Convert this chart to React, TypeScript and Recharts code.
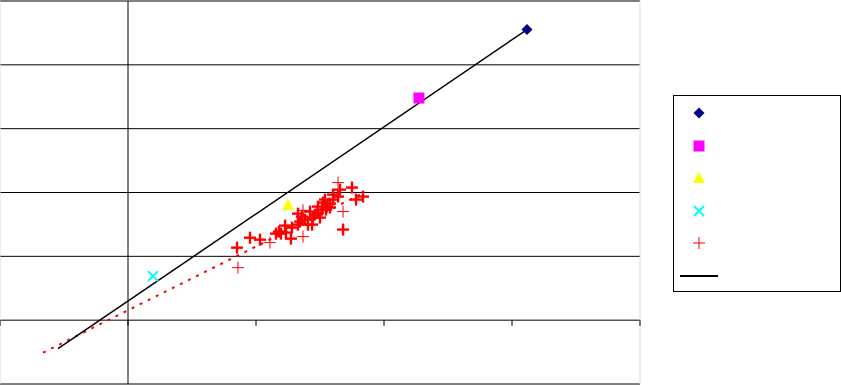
import React from "react";
import {
  ReferenceLine,
  Scatter,
  ScatterChart,
  XAxis,
  YAxis,
  ZAxis,
} from "recharts";

// axis ticks (no labels in the original)
const X_TICKS = [-1, 0, 1, 2, 3, 4];
const Y_GRID = [-1, 0, 1, 2, 3, 4, 5];

// single-point series
const seriesDiamond = [{ x: 3.117, y: 4.553 }];
const seriesSquare = [{ x: 2.273, y: 3.48 }];
const seriesTriangle = [{ x: 1.25, y: 1.81 }];
const seriesCross = [{ x: 0.195, y: 0.69 }];

// red "+" cluster, bold markers
const plusBold = [
  { x: 0.852, y: 1.136 }, { x: 0.953, y: 1.292 }, { x: 1.031, y: 1.261 },
  { x: 1.156, y: 1.356 }, { x: 1.18, y: 1.387 }, { x: 1.227, y: 1.481 },
  { x: 1.273, y: 1.277 }, { x: 1.281, y: 1.45 }, { x: 1.328, y: 1.669 },
  { x: 1.344, y: 1.544 }, { x: 1.383, y: 1.575 }, { x: 1.438, y: 1.497 },
  { x: 1.461, y: 1.654 }, { x: 1.5, y: 1.607 }, { x: 1.516, y: 1.732 },
  { x: 1.539, y: 1.889 }, { x: 1.555, y: 1.779 }, { x: 1.578, y: 1.826 },
  { x: 1.602, y: 1.889 }, { x: 1.641, y: 1.936 }, { x: 1.68, y: 1.419 },
  { x: 1.75, y: 2.077 }, { x: 1.781, y: 1.889 }, { x: 1.836, y: 1.936 },
  { x: 1.523, y: 1.842 }, { x: 1.422, y: 1.701 }, { x: 1.328, y: 1.497 },
  { x: 1.234, y: 1.372 }, { x: 1.484, y: 1.779 }, { x: 1.484, y: 1.685 },
  { x: 1.547, y: 1.732 }, { x: 1.578, y: 1.764 }, { x: 1.602, y: 1.967 },
  { x: 1.656, y: 2.045 }, { x: 1.445, y: 1.607 }, { x: 1.406, y: 1.497 },
  { x: 1.195, y: 1.356 }, { x: 1.359, y: 1.622 },
];

// red "+" cluster, thin markers
const plusThin = [
  { x: 0.859, y: 0.823 }, { x: 1.109, y: 1.215 }, { x: 1.367, y: 1.309 },
  { x: 1.641, y: 2.155 }, { x: 1.68, y: 1.701 }, { x: 1.367, y: 1.72 },
];

// dotted trend line of the "+" series
const trendLine = [
  { x: -0.664, y: -0.509 },
  { x: 1.836, y: 1.99 },
];

// solid black reference line
const blackLine = [
  { x: -0.547, y: -0.447 },
  { x: 3.117, y: 4.553 },
];

const Diamond = ({ cx, cy }: any) => (
  <polygon
    points={`${cx},${cy - 5.5} ${cx + 5.5},${cy} ${cx},${cy + 5.5} ${cx - 5.5},${cy}`}
    fill="#000080"
  />
);
const Square = ({ cx, cy }: any) => (
  <rect x={cx - 5.5} y={cy - 5.5} width={11} height={11} fill="#FF00FF" />
);
const Triangle = ({ cx, cy }: any) => (
  <polygon
    points={`${cx},${cy - 6} ${cx + 6},${cy + 5} ${cx - 6},${cy + 5}`}
    fill="#FFFF00"
  />
);
const Cross = ({ cx, cy }: any) => (
  <g stroke="#00FFFF" strokeWidth={2}>
    <line x1={cx - 5} y1={cy - 5} x2={cx + 5} y2={cy + 5} />
    <line x1={cx - 5} y1={cy + 5} x2={cx + 5} y2={cy - 5} />
  </g>
);
const Plus = ({ cx, cy, w = 1 }: any) => (
  <g stroke="#FF0000" strokeWidth={w}>
    <line x1={cx - 6} y1={cy} x2={cx + 6} y2={cy} />
    <line x1={cx} y1={cy - 6} x2={cx} y2={cy + 6} />
  </g>
);

function LegendBox() {
  const cx = 26;
  return (
    <svg width={168} height={197} style={{ display: "block" }}>
      <rect x={0.5} y={0.5} width={167} height={196} fill="#fff" stroke="#000" />
      <Diamond cx={cx} cy={18} />
      <Square cx={cx} cy={51} />
      <Triangle cx={cx} cy={83} />
      <Cross cx={cx} cy={116} />
      <Plus cx={cx} cy={148} />
      <line x1={7} y1={181} x2={45} y2={181} stroke="#000" strokeWidth={2} />
    </svg>
  );
}

export default function App() {
  return (
    <div
      style={{
        position: "absolute",
        left: 0,
        top: 0,
        width: 841,
        height: 385,
        background: "#fff",
      }}
    >
      <ScatterChart
        width={841}
        height={385}
        margin={{ top: 1, right: 201, left: 0, bottom: 1 }}
      >
        <XAxis type="number" dataKey="x" domain={[-1, 4]} ticks={X_TICKS} hide allowDataOverflow />
        <YAxis type="number" dataKey="y" domain={[-1, 5]} ticks={Y_GRID} hide allowDataOverflow />
        <ZAxis range={[60, 60]} />

        {Y_GRID.map((v) => (
          <ReferenceLine key={`g${v}`} y={v} stroke="#000" strokeWidth={1} />
        ))}
        <ReferenceLine x={-1} stroke="#d9d9d9" />
        <ReferenceLine x={4} stroke="#d9d9d9" />
        <ReferenceLine x={0} stroke="#000" />
        {X_TICKS.map((t) => (
          <ReferenceLine
            key={`t${t}`}
            segment={[
              { x: t, y: 0 },
              { x: t, y: -0.09 },
            ]}
            stroke="#000"
          />
        ))}

        <Scatter
          data={trendLine}
          line={{ stroke: "#FF0000", strokeWidth: 2, strokeDasharray: "3 6" }}
          shape={() => <g />}
          isAnimationActive={false}
        />
        <Scatter
          data={blackLine}
          line={{ stroke: "#000", strokeWidth: 1.5 }}
          shape={() => <g />}
          isAnimationActive={false}
        />
        <Scatter data={plusThin} shape={(p: any) => <Plus {...p} w={1} />} isAnimationActive={false} />
        <Scatter data={plusBold} shape={(p: any) => <Plus {...p} w={2.4} />} isAnimationActive={false} />
        <Scatter data={seriesCross} shape={Cross} isAnimationActive={false} />
        <Scatter data={seriesTriangle} shape={Triangle} isAnimationActive={false} />
        <Scatter data={seriesSquare} shape={Square} isAnimationActive={false} />
        <Scatter data={seriesDiamond} shape={Diamond} isAnimationActive={false} />
      </ScatterChart>
      <div style={{ position: "absolute", left: 673, top: 95 }}>
        <LegendBox />
      </div>
    </div>
  );
}
